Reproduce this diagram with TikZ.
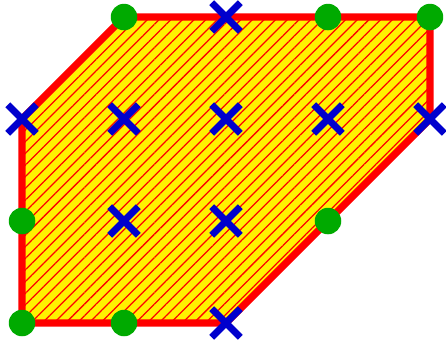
\documentclass[tikz,border=0pt]{standalone}
\usetikzlibrary{patterns.meta,calc}
\definecolor{dotgreen}{RGB}{0,170,0}
\definecolor{crossblue}{RGB}{0,0,205}
\tikzset{
  region/.style={draw=red, line width=2pt, line join=miter},
  gdot/.style={circle, fill=dotgreen, inner sep=0pt, minimum size=0.26cm},
  xmark/.style={draw=crossblue, line width=1.9pt},
}
\newcommand{\xcross}[1]{\draw[xmark] ($(#1)+(-0.14,-0.14)$) -- ($(#1)+(0.14,0.14)$) ($(#1)+(-0.14,0.14)$) -- ($(#1)+(0.14,-0.14)$);}
\begin{document}
\begin{tikzpicture}[x=1cm,y=1cm]
\useasboundingbox (-0.216,-0.186) rectangle (4.157,3.167);
\coordinate (v1) at (1,3);
\coordinate (v2) at (4,3);
\coordinate (v3) at (4,2);
\coordinate (v4) at (2,0);
\coordinate (v5) at (0,0);
\coordinate (v6) at (0,2);
\fill[yellow] (v1) -- (v2) -- (v3) -- (v4) -- (v5) -- (v6) -- cycle;
\fill[pattern={Lines[angle=45,distance=2.3pt,line width=0.35pt]}, pattern color=red] (v1) -- (v2) -- (v3) -- (v4) -- (v5) -- (v6) -- cycle;
\draw[region] (v1) -- (v2) -- (v3) -- (v4) -- (v5) -- (v6) -- cycle;
% green dots
\foreach \x/\y/\n in {1/3/g1,3/3/g2,4/3/g3,0/1/g4,3/1/g5,0/0/g6,1/0/g7}
  \node[gdot] (\n) at (\x,\y) {};
% blue crosses
\foreach \x/\y/\n in {2/3/c1,0/2/c2,1/2/c3,2/2/c4,3/2/c5,4/2/c6,1/1/c7,2/1/c8,2/0/c9}
  {\coordinate (\n) at (\x,\y); \xcross{\n}}
\end{tikzpicture}
\end{document}
